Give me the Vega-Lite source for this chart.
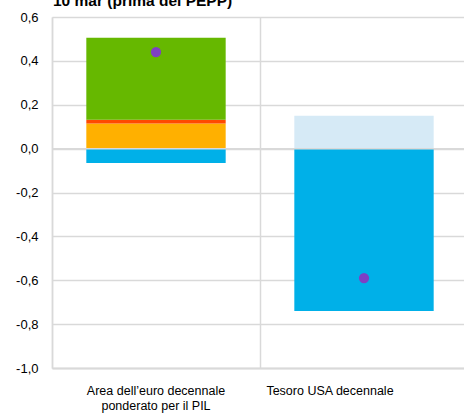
{
  "$schema": "https://vega.github.io/schema/vega-lite/v6.json",
  "width": 416,
  "height": 351,
  "autosize": {"type": "none"},
  "padding": {"left": 52, "top": 17, "right": 0, "bottom": 46},
  "background": "white",
  "title": {
    "text": "10 mar (prima del PEPP)",
    "anchor": "start",
    "frame": "group",
    "baseline": "alphabetic",
    "offset": 0,
    "dy": 10,
    "dx": 1,
    "font": "Liberation Sans",
    "fontSize": 15.5,
    "fontWeight": "bold",
    "color": "black"
  },
  "datasets": {
    "componenti": [
      {"titolo": "Area dell’euro decennale ponderato per il PIL", "componente": "componente 1", "ordine": 1, "valore": 0.114},
      {"titolo": "Area dell’euro decennale ponderato per il PIL", "componente": "componente 2", "ordine": 2, "valore": 0.018},
      {"titolo": "Area dell’euro decennale ponderato per il PIL", "componente": "componente 3", "ordine": 3, "valore": 0.373},
      {"titolo": "Area dell’euro decennale ponderato per il PIL", "componente": "componente 4", "ordine": 4, "valore": -0.065},
      {"titolo": "Tesoro USA decennale", "componente": "componente 5", "ordine": 5, "valore": 0.15},
      {"titolo": "Tesoro USA decennale", "componente": "componente 4", "ordine": 4, "valore": -0.74}
    ],
    "totali": [
      {"titolo": "Area dell’euro decennale ponderato per il PIL", "totale": 0.44},
      {"titolo": "Tesoro USA decennale", "totale": -0.59}
    ]
  },
  "layer": [
    {
      "data": {"name": "componenti"},
      "mark": {"type": "bar", "width": {"band": 0.67}},
      "encoding": {
        "x": {
          "field": "titolo",
          "type": "nominal",
          "sort": ["Area dell’euro decennale ponderato per il PIL", "Tesoro USA decennale"],
          "scale": {"paddingInner": 0, "paddingOuter": 0},
          "axis": {
            "title": null,
            "grid": true,
            "bandPosition": 0,
            "gridColor": "#D9D9D9",
            "gridWidth": 1.5,
            "ticks": false,
            "domainColor": "#D9D9D9",
            "domainWidth": 2,
            "labelAngle": 0,
            "labelFont": "Liberation Sans",
            "labelFontSize": 12.5,
            "labelColor": "black",
            "labelPadding": 16,
            "labelLineHeight": 15,
            "labelExpr": "datum.value == 'Tesoro USA decennale' ? datum.label : ['Area dell’euro decennale', 'ponderato per il PIL']",
            "labelOffset": {"condition": {"test": "datum.value == 'Tesoro USA decennale'", "value": -34}, "value": 0}
          }
        },
        "y": {
          "field": "valore",
          "type": "quantitative",
          "stack": "zero",
          "scale": {"domain": [-1, 0.6], "nice": false, "zero": false},
          "axis": {
            "title": null,
            "values": [-1, -0.8, -0.6, -0.4, -0.2, 0, 0.2, 0.4, 0.6],
            "grid": true,
            "gridColor": "#D9D9D9",
            "gridWidth": 1.5,
            "ticks": false,
            "domainColor": "#D9D9D9",
            "domainWidth": 1.5,
            "labelFont": "Liberation Sans",
            "labelFontSize": 13,
            "labelColor": "black",
            "labelPadding": 14,
            "labelExpr": "replace(replace(format(datum.value, '.1f'), '.', ','), '−', '-')"
          }
        },
        "color": {
          "field": "componente",
          "type": "nominal",
          "scale": {
            "domain": ["componente 1", "componente 2", "componente 3", "componente 4", "componente 5"],
            "range": ["#FFB000", "#FF4A00", "#66B800", "#00B0E8", "#D6EAF6"]
          },
          "legend": null
        },
        "order": {"field": "ordine", "type": "quantitative"}
      }
    },
    {
      "data": {"values": [{}]},
      "mark": {"type": "rule", "color": "#D9D9D9", "strokeWidth": 1.5},
      "encoding": {"y": {"datum": 0}}
    },
    {
      "data": {"name": "totali"},
      "mark": {"type": "point", "filled": true, "size": 105, "color": "#7F3FC4", "opacity": 1},
      "encoding": {
        "x": {"field": "titolo", "type": "nominal", "sort": ["Area dell’euro decennale ponderato per il PIL", "Tesoro USA decennale"]},
        "y": {"field": "totale", "type": "quantitative"}
      }
    }
  ],
  "config": {
    "view": {"stroke": null}
  }
}
